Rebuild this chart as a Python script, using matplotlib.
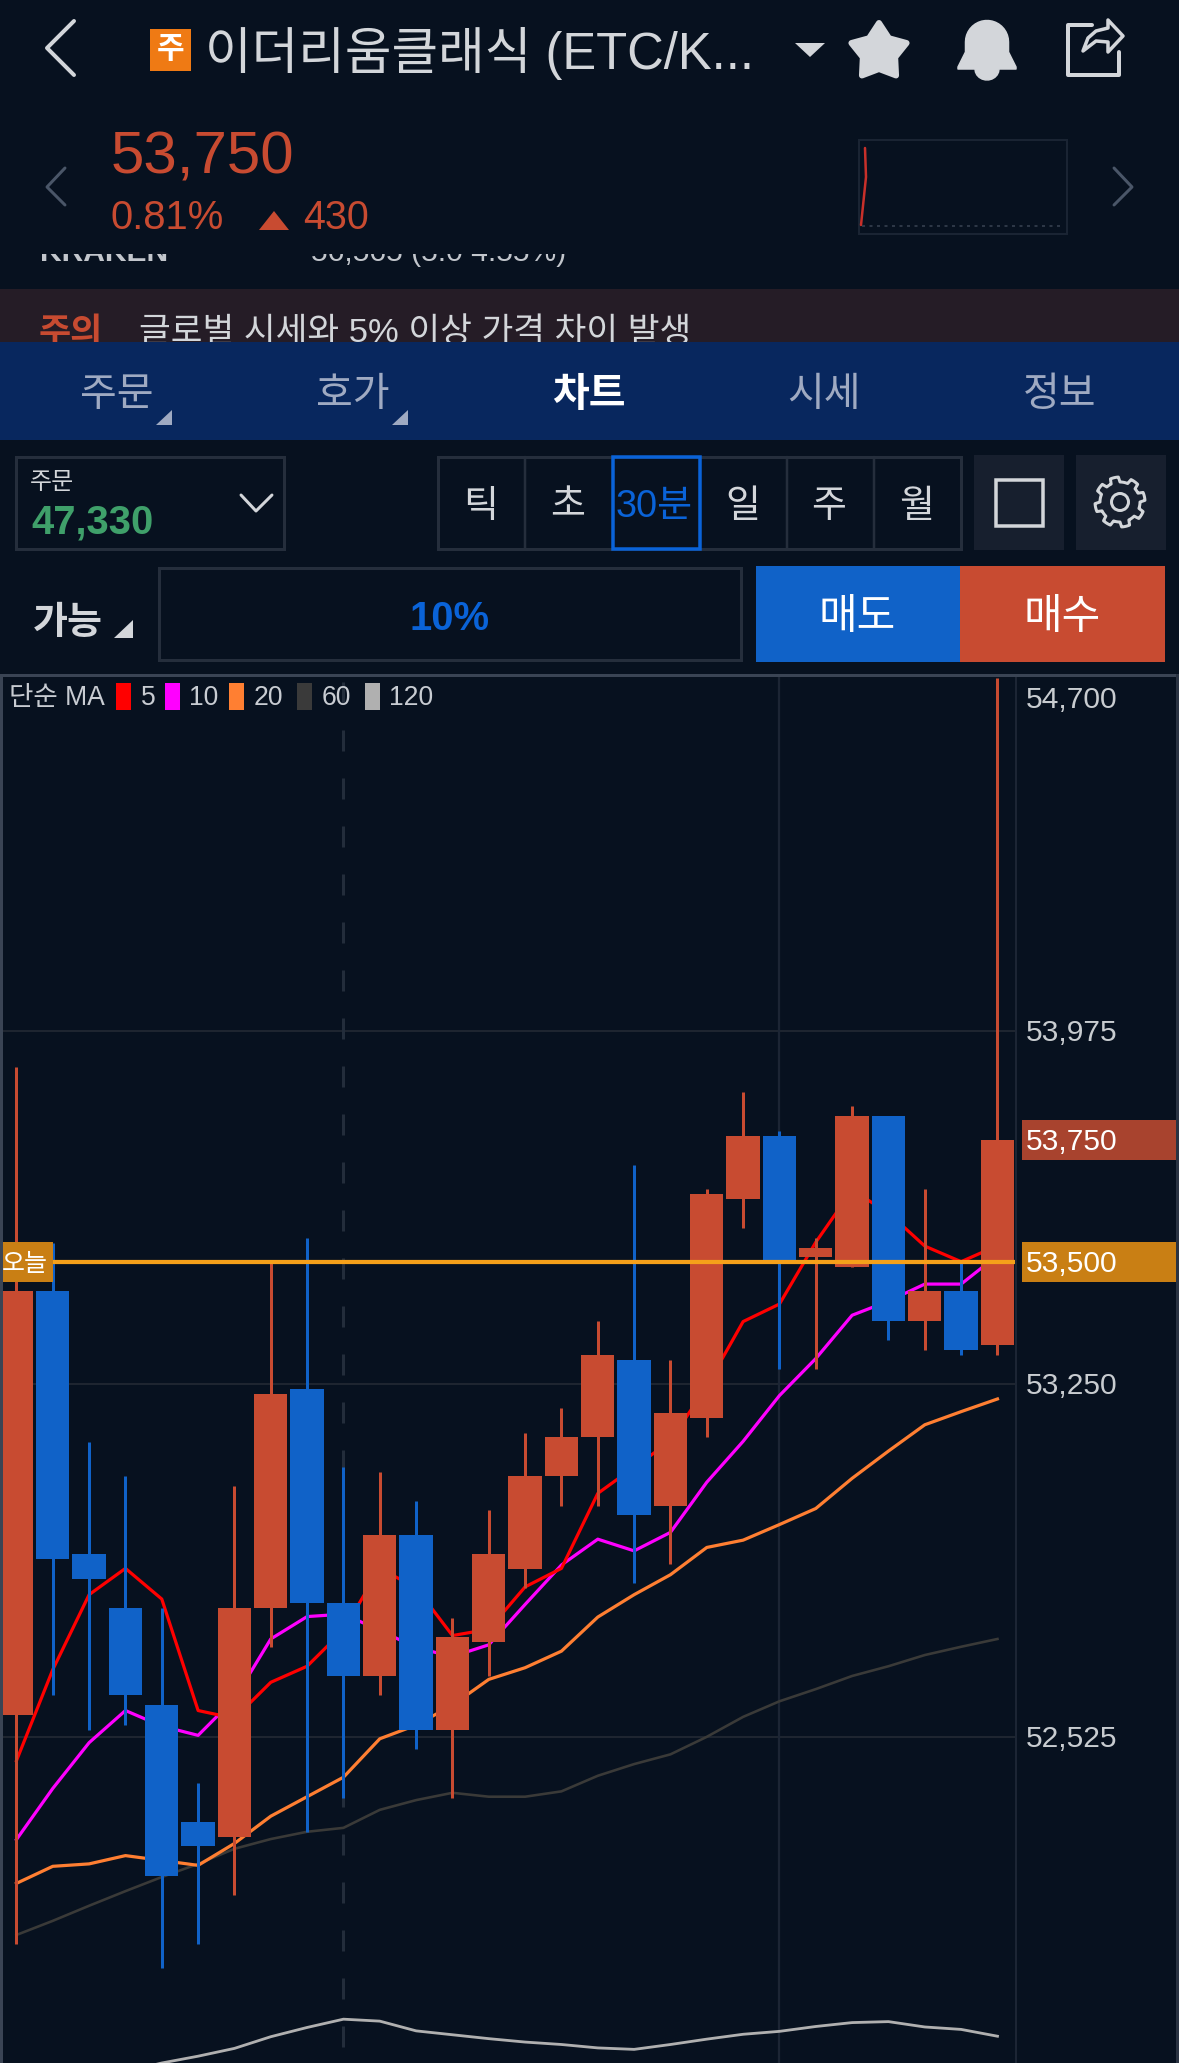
import numpy as np
import matplotlib
matplotlib.use('Agg')
import matplotlib.pyplot as plt
from matplotlib.patches import Rectangle, Polygon

plt.rcParams['font.family'] = ['Liberation Sans', 'Noto Sans CJK KR', 'DejaVu Sans']

# candle data (30 minute bars)
opens = [52570, 53440, 52900, 52790, 52590, 52350, 52320, 52790, 53240, 52800, 52650, 52940, 52540, 52720,
         52870, 53060, 53140, 53300, 53000, 53180, 53630, 53760, 53510, 53490, 53800, 53380, 53440, 53330]
closes = [53440, 52890, 52850, 52610, 52240, 52300, 52790, 53230, 52800, 52650, 52940, 52540, 52730, 52900,
          53060, 53140, 53310, 52980, 53190, 53640, 53760, 53500, 53530, 53800, 53380, 53440, 53320, 53750]
highs = [53900, 53540, 53130, 53060, 52790, 52430, 53040, 53500, 53550, 53080, 53070, 53010, 52770, 52990,
         53150, 53200, 53380, 53700, 53300, 53650, 53850, 53770, 53550, 53820, 53800, 53650, 53500, 54700]
lows = [52100, 52610, 52540, 52550, 52050, 52100, 52200, 52710, 52330, 52400, 52610, 52500, 52400, 52650,
        52830, 53000, 53000, 52840, 52880, 53140, 53570, 53280, 53280, 53490, 53340, 53320, 53310, 53310]

ma5 = [52476, 52663, 52817, 52871, 52808, 52579, 52563, 52637, 52670, 52744, 52871, 52831, 52733, 52746,
       52833, 52871, 53025, 53079, 53132, 53246, 53378, 53414, 53541, 53648, 53601, 53533, 53501, 53534]
ma10 = [52314, 52419, 52513, 52579, 52547, 52528, 52603, 52726, 52772, 52777, 52744, 52708, 52690, 52714,
        52797, 52878, 52931, 52907, 52945, 53048, 53132, 53226, 53302, 53391, 53420, 53455, 53455, 53514]
ma20 = [52224, 52259, 52264, 52281, 52271, 52261, 52306, 52362, 52402, 52442, 52521, 52549, 52590, 52643,
        52667, 52701, 52771, 52817, 52858, 52914, 52929, 52961, 52994, 53056, 53112, 53166, 53193, 53219]
ma60 = [52118, 52147, 52178, 52208, 52237, 52264, 52295, 52315, 52330, 52338, 52375, 52395, 52410, 52402,
        52402, 52413, 52445, 52469, 52489, 52525, 52566, 52598, 52623, 52650, 52670, 52693, 52710, 52726]
ma120 = [np.nan, np.nan, np.nan, 51837, 51855, 51869, 51885, 51909, 51928, 51945, 51941, 51921, 51913, 51905,
         51898, 51893, 51886, 51883, 51893, 51904, 51914, 51920, 51930, 51938, 51940, 51929, 51924, 51910]

grid_prices = [53975, 53250, 52525]
tick_labels = ['53,975', '53,250', '52,525']
grid_bars = [21]
today_bar = 9
today_price = 53500
last_price = 53750

legend_items = [('5', '#ff0000'), ('10', '#ff00ff'), ('20', '#ff7f32'), ('60', '#3a3a3a'), ('120', '#b0b0b0')]
tabs = ['틱', '초', '30분', '일', '주', '월']
nav_items = ['주문', '호가', '차트', '시세', '정보']

BG = '#07111f'
RED = '#c84b31'
BLUE = '#1062c8'
AMBER = '#c97f14'
LIGHT = '#d3d6da'
EDGE = '#252e3c'

W, H = 1179, 2063
fig = plt.figure(figsize=(W / 100, H / 100), dpi=100, facecolor=BG)

# chart area, in figure fractions from pixel positions
left, right, top = 3, 1016, 677
ax = fig.add_axes([left / W, 0, (right - left) / W, (H - top) / H])
ax.set_facecolor('none')
ax.set_xlim(-0.37, 27.51)
ax.set_ylim(51855, 54702)
ax.set_xticks([])
ax.set_yticks([])
for s in ax.spines.values():
    s.set_visible(False)

# px to point
px = 0.72

ax.hlines(grid_prices, -1, 28, color='#1e2530', lw=2 * px, zorder=1)
ax.vlines(grid_bars, 51000, 55000, color='#1c2534', lw=2.2 * px, zorder=1)
# drawn from the top so the dashes start where they do in the app
ax.vlines(today_bar, 54692, 51870, color='#232d3b', lw=3 * px, linestyles=(0, (7, 9)), zorder=1)

x = np.arange(len(opens))
ax.plot(x, ma120, color='#b0b0b0', lw=2.8 * px, zorder=2)
ax.plot(x, ma60, color='#3a3a38', lw=2.6 * px, zorder=2)
ax.plot(x, ma20, color='#ff7f32', lw=3.2 * px, zorder=2)
ax.plot(x, ma10, color='#ff00ff', lw=3.2 * px, zorder=2)
ax.plot(x, ma5, color='#ff0000', lw=3.2 * px, zorder=2)

for i in x:
    col = RED if closes[i] >= opens[i] else BLUE
    ax.vlines(i, lows[i], highs[i], color=col, lw=3 * px, zorder=3)
    ax.bar(i, abs(closes[i] - opens[i]), bottom=min(opens[i], closes[i]), width=0.917, color=col, zorder=4)

ax.hlines(today_price, -1, 28, color='#f5a01a', lw=4.2 * px, zorder=5)

# overlay for app chrome, pixel coordinates
ui = fig.add_axes([0, 0, 1, 1], facecolor='none')
ui.set_xlim(0, W)
ui.set_ylim(H, 0)
ui.axis('off')


def box(x0, y0, x1, y1, fc='none', ec='none', lw=0, z=2):
    r = Rectangle((x0, y0), x1 - x0, y1 - y0, facecolor=fc, edgecolor=ec, lw=lw * px, zorder=z)
    ui.add_patch(r)
    return r


def poly(pts, fc='none', ec='none', lw=0, z=3, closed=True):
    p = Polygon(pts, closed=closed, facecolor=fc, edgecolor=ec, lw=lw * px, zorder=z, joinstyle='round')
    ui.add_patch(p)
    return p


def line(xs, ys, col=LIGHT, lw=3, z=3, **kw):
    ui.plot(xs, ys, color=col, lw=lw * px, zorder=z, solid_capstyle='round', **kw)


def label(x0, y0, s, size, col=LIGHT, ha='left', weight='normal', z=4):
    # va center sits a little high for these fonts
    return ui.text(x0, y0 + 0.1 * size, s, fontsize=size * px, color=col, ha=ha, va='center',
                   fontweight=weight, zorder=z)


# top header
line([74, 47, 74], [21, 48, 75], lw=4)
box(150, 29, 191, 71, fc='#ef7a14')
label(170.5, 47, '주', 30, col='white', ha='center', weight='bold')
label(205, 48, '이더리움클래식 (ETC/K...', 50.7, ha='left')
poly([(795, 43), (825, 43), (810, 57)], fc=LIGHT)

# star icon
ang = np.pi / 2 + np.arange(10) * np.pi / 5
rad = np.where(np.arange(10) % 2 == 0, 29, 17)
poly(np.c_[879 + rad * np.cos(ang), 52 - rad * np.sin(ang)], fc=LIGHT, ec=LIGHT, lw=6)

# bell icon
t = np.linspace(np.pi, 0, 20)
dome = np.c_[987 + 21.5 * np.cos(t), 42 - 21.5 * np.sin(t)]
t = np.linspace(0, np.pi, 12)
clapper = np.c_[987 + 12 * np.cos(t), 69 + 11 * np.sin(t)]
poly(np.vstack([dome, [(1008.5, 52), (1016, 67), (1016, 69)], clapper, [(958, 69), (958, 67), (965.5, 52)]]),
     fc=LIGHT, ec=LIGHT, lw=1.5)

# share icon
line([1092, 1068, 1068, 1119, 1119], [25, 25, 75, 75, 52], lw=4)
poly([(1083, 51), (1088, 38), (1096, 31), (1108, 28), (1108, 20), (1123, 36), (1108, 52), (1108, 42),
      (1096, 41)], ec=LIGHT, lw=3.5)

# price block
label(111, 152, f'{last_price:,}', 60, col=RED)
label(111, 214, '0.81%', 40, col=RED)
poly([(259, 230), (289, 230), (274, 211)], fc=RED)
label(303, 214, '430', 39.5, col=RED)
line([65, 47, 65], [168, 187, 205], col='#4a5668', lw=3)
line([1114, 1132, 1114], [168, 187, 205], col='#4a5668', lw=3)
box(859, 140, 1067, 234, ec='#1a2433', lw=2)
line([865, 866, 861], [148, 177, 225], col='#c8302a', lw=2.5)
line([862, 1060], [226, 226], col='#3a4454', lw=1.5, ls=(0, (2, 3)))

# exchange row, cut off at the top by the price block
clip_row = Rectangle((0, 254), W, 36, transform=ui.transData)
for lx, s, w in [(40, 'KRAKEN', 'bold'), (311, '56,565 (5.0 4.55%)', 'normal')]:
    t = label(lx, 250, s, 30, col='#c2c6cc', weight=w)
    t.set_clip_on(True)
    t.set_clip_path(clip_row)

# warning band
box(0, 289, W, 342, fc='#251c26', z=1)
label(39, 330, '주의', 35, col=RED, weight='bold', z=2)
label(139, 330, '글로벌 시세와 5% 이상 가격 차이 발생', 34.5, col='#d3d6da', z=2)

# nav bar
box(0, 342, W, 440, fc='#08275e', z=3)
for s, cx in zip(nav_items, [117, 353, 589, 824, 1060]):
    on = s == '차트'
    label(cx, 391, s, 40, col='white' if on else '#9faac2', ha='center', weight='bold' if on else 'normal')
poly([(172, 410), (172, 425), (156, 425)], fc='#9faac2', z=4)
poly([(408, 410), (408, 425), (392, 425)], fc='#9faac2', z=4)

# order price box
box(16, 457, 284, 549, ec=EDGE, lw=3)
label(30, 481, '주문', 24)
label(31, 518, '47,330', 40, col='#3fa06a', weight='bold')
line([241, 256, 272], [495, 511, 495], lw=3)

# period tabs
box(438, 457, 961, 549, ec=EDGE, lw=3)
for lx in [525, 787, 874]:
    line([lx, lx], [457, 549], col=EDGE, lw=2.5)
box(613, 457, 700, 549, ec='#0a63d8', lw=3.5, z=4)
for s, cx in zip(tabs, [481, 568, 654, 743, 829, 917]):
    label(cx, 503, s, 38, col='#0a63d8' if s == '30분' else LIGHT, ha='center')

# square and gear buttons
box(974, 455, 1064, 550, fc='#171f2e')
box(996, 480, 1043, 526, ec=LIGHT, lw=3.5, z=3)
box(1076, 455, 1166, 550, fc='#171f2e')
gx, gy = 1120, 502
ang = np.linspace(0, 2 * np.pi, 97)[:-1]
rad = np.where(((ang + np.pi / 8) % (np.pi / 4)) < np.pi / 8, 25, 20)
poly(np.c_[gx + rad * np.cos(ang), gy + rad * np.sin(ang)], ec=LIGHT, lw=3)
ui.add_patch(plt.Circle((gx, gy), 8.5, fc='none', ec=LIGHT, lw=3 * px, zorder=3))

# quantity row
label(33, 620, '가능', 38, weight='bold')
poly([(133, 620), (133, 638), (114, 638)], fc=LIGHT)
box(159, 568, 741, 660, ec=EDGE, lw=3)
label(449, 615, '10%', 40, col='#0a63d8', ha='center', weight='bold')
box(756, 566, 960, 662, fc=BLUE)
box(960, 566, 1165, 662, fc=RED)
label(857, 614, '매도', 42, col='white', ha='center')
label(1062, 614, '매수', 42, col='white', ha='center')

# chart frame
box(0, 674, W, 677, fc='#3a4454', z=6)
box(0, 674, 3, H, fc='#3a4454', z=6)
box(1176, 674, 1179, H, fc='#2a3342', z=6)
line([1016, 1016], [677, H], col='#1c2534', lw=2)

# MA legend
label(9, 695, '단순 MA', 26.5, col='#c8ccd2')
for (s, c), sx, tx in zip(legend_items, [116, 165, 229, 297, 365], [141, 189, 254, 322, 389]):
    box(sx, 683, sx + 15, 710, fc=c)
    label(tx, 695, s, 26.5, col='#c8ccd2')

# price labels at the right
label(1026, 697, '54,700', 30, col='#c8ccd0')
for p, s in zip(grid_prices, tick_labels):
    ypx = top + (54702 - p) / (54702 - 51855) * (H - top)
    label(1026, ypx - 1, s, 30, col='#c8ccd0')
for p, c in [(last_price, '#a8432e'), (today_price, AMBER)]:
    ypx = top + (54702 - p) / (54702 - 51855) * (H - top)
    box(1022, ypx - 20, 1176, ypx + 20, fc=c)
    label(1026, ypx - 1, f'{p:,}', 30, col='white')
    if p == today_price:
        box(3, ypx - 20, 53, ypx + 20, fc=c, z=6)
        label(25, ypx - 1, '오늘', 25, col='white', ha='center', z=7)

fig.savefig('out.png', dpi=100, facecolor=BG)
